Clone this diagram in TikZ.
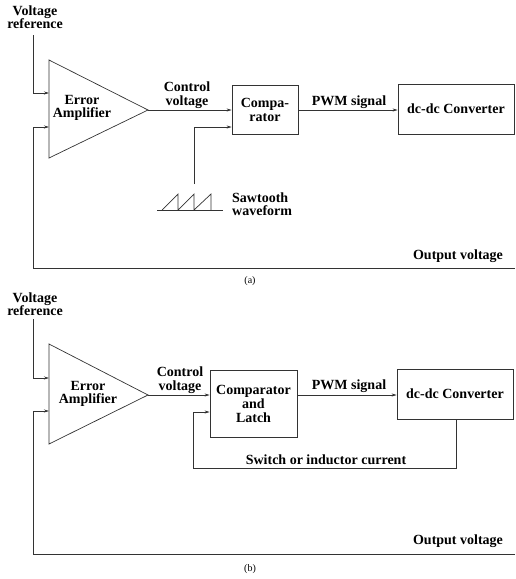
\documentclass[tikz,border=0pt]{standalone}
\usepackage{fontspec}
\setmainfont{Liberation Serif}
\usetikzlibrary{arrows.meta}
\begin{document}
\begin{tikzpicture}[x=1pt,y=-1pt,
  wire/.style={draw=black!80,line width=0.7pt},
  arr/.style={wire,-{Stealth[length=5pt,width=3pt]}},
  lbl/.style={font=\fontsize{14}{13.5}\selectfont\bfseries,align=center,inner sep=0pt},
  blk/.style={draw=black!80,line width=0.7pt,inner sep=0pt,font=\fontsize{14}{14}\selectfont\bfseries,align=center},
  figcap/.style={font=\fontsize{10}{12}\selectfont,inner sep=0pt}]
\useasboundingbox (0,0) rectangle (515,579);
% ================= (a) =================
\node[lbl] (vrefa) at (35,17) {Voltage\\reference};
\coordinate (ta1) at (49,60);
\coordinate (ta2) at (49,158);
\coordinate (ta3) at (148,110);
\draw[wire] (ta1) -- (ta2) -- (ta3) -- cycle;
\node[lbl] (eaa) at (82,108) {Error\\Amplifier};
\coordinate (ina1) at (49,93);
\coordinate (ina2) at (49,127);
\draw[arr] (33,35) |- (ina1);
\node[blk,minimum width=66pt,minimum height=49pt] (compa) at (265,109.5) {Compa-\\rator};
\node[blk,minimum width=116pt,minimum height=50pt] (dca) at (456,109) {dc-dc Converter};
\draw[arr] (ta3) -- (compa.west |- ta3);
\node[lbl] (cva) at (187,95) {Control\\voltage};
\draw[arr] (compa.east |- ta3) -- (dca.west |- ta3);
\node[lbl] (pwma) at (349,102) {PWM signal};
% sawtooth
\coordinate (sawb) at (194,184);
\draw[arr] (sawb) |- (compa.west |- ina2);
\draw[wire] (157,210) -- (223,210);
\draw[wire] (162,210) -- (178,194) -- (178,210) -- (194,194) -- (194,210) -- (211,194) -- (211,210);
\node[lbl,align=left,anchor=west] (sawl) at (232,204) {Sawtooth\\waveform};
% feedback
\coordinate (outa) at (515,268);
\draw[arr] (outa) -- (33,268) |- (ina2);
\node[lbl] (ova) at (458,256) {Output voltage};
\node[figcap] (capa) at (250,281) {(a)};
% ================= (b) =================
\node[lbl] (vrefb) at (35,304) {Voltage\\reference};
\coordinate (tb1) at (49,344);
\coordinate (tb2) at (49,444);
\coordinate (tb3) at (148,395);
\draw[wire] (tb1) -- (tb2) -- (tb3) -- cycle;
\node[lbl] (eab) at (88,394) {Error\\Amplifier};
\coordinate (inb1) at (49,378);
\coordinate (inb2) at (49,411);
\draw[arr] (33,319) |- (inb1);
\node[blk,minimum width=87pt,minimum height=67pt] (compb) at (253.5,403.5) {Comparator\\and\\Latch};
\node[blk,minimum width=116pt,minimum height=50pt] (dcb) at (455,394) {dc-dc Converter};
\draw[arr] (tb3) -- (compb.west |- tb3);
\node[lbl] (cvb) at (180,380) {Control\\voltage};
\draw[arr] (compb.east |- tb3) -- (dcb.west |- tb3);
\node[lbl] (pwmb) at (349,386) {PWM signal};
\coordinate (swc) at (456,468);
\draw[arr] (dcb.south -| swc) -- (swc) -- (193,468) |- (compb.west |- 0,412);
\node[lbl] (swl) at (326,460) {Switch or inductor current};
\coordinate (outb) at (515,554);
\draw[arr] (outb) -- (33,554) |- (inb2);
\node[lbl] (ovb) at (458,541) {Output voltage};
\node[figcap] (capb) at (250,569) {(b)};
\end{tikzpicture}
\end{document}
